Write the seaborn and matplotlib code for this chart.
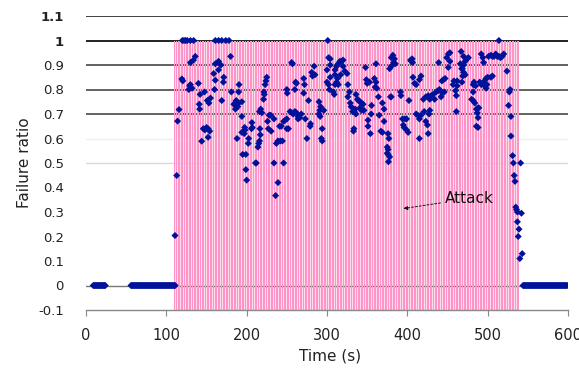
import numpy as np
import pandas as pd
import matplotlib
matplotlib.use("Agg")
import matplotlib.pyplot as plt
import seaborn as sns

# ---------------- data ----------------
# seconds at which the failure ratio was 0 (before / after the attack)
zero_time_a = list(range(9, 25))
zero_time_b = list(range(56, 112))
zero_time_c = list(range(544, 600))

# attack window (pink band), seconds
attack_start = 110
attack_end = 539

# failure ratio samples during the attack
attack_time = [
    110.8, 112.9, 114, 115.8, 119.4, 120.5,
    120, 122, 124, 126, 130, 134,
    128, 129, 130, 132, 130, 133.8, 136, 140, 141, 141.5, 142, 144,
    146, 148, 150, 152, 154, 152, 147.5, 151, 153, 155, 159, 160, 161,
    161, 165, 169, 174, 178, 161, 165, 168, 165, 169, 171, 171.5, 180, 181,
    184, 186, 187, 189, 190, 188, 190, 190.5, 194, 195, 194, 194,
    197, 197.5, 198, 199, 199, 200, 202, 202.5, 206, 206.5, 207, 211, 212,
    214, 215, 216, 216.5, 217, 216, 217.5, 219, 221, 222, 221.5, 223, 224, 225,
    226, 228, 230, 227, 230.5, 234, 234, 237, 239, 242, 244.5, 239, 236,
    241, 243, 246, 248, 246, 250, 252, 250, 250, 250.5, 256, 257,
    254, 256, 258, 260, 262, 264, 266, 264, 268, 261, 262, 260,
    271, 272, 271, 273, 275, 277, 279, 279.5, 281, 282, 284, 285,
    290, 292, 291, 290, 291.5, 296, 294, 293, 294,
    300, 302, 303, 300, 304, 304, 309, 301, 302, 304, 308, 310,
    310, 312, 314, 316, 318, 320, 320, 322, 325, 310, 313, 312, 314, 317,
    326, 328, 326, 329, 330, 332, 334, 335, 336,
    336, 338, 339, 341, 343, 345, 341, 343, 346, 333, 333.5,
    348, 349, 350, 353, 351, 351, 354, 355, 355.5,
    359, 361, 360, 362, 361, 364, 365, 367, 369, 369, 371, 371,
    375, 375, 376, 376.5, 379, 376, 377, 376, 378, 380,
    380, 382, 384, 380, 378, 383, 385, 392, 391.5,
    394, 397, 399, 395, 396, 399, 401, 402, 404, 406, 406.5, 405,
    407, 409, 411, 417, 415, 411, 413, 415, 417, 421, 423, 425, 427, 428, 415, 426,
    420, 423, 426, 428, 430, 432, 434, 436, 438, 440, 442, 444, 446,
    443, 445, 447, 439, 449, 451, 453, 453, 451,
    458, 457, 460, 461, 462, 462, 461, 467, 466, 468,
    470, 472, 474, 476, 470, 468, 470, 472, 469, 468,
    483, 482, 485, 482, 492, 494, 495,
    501, 504, 506, 508, 510, 512, 514, 516, 518, 520,
    490, 492, 496, 498, 500, 504, 506, 496, 498, 499,
    480, 482, 484, 486, 488, 489, 487, 488, 486, 488,
    514, 524, 527, 528, 526, 529, 529, 531, 532, 541, 533, 534,
    535, 536, 537, 542, 537, 539, 538, 543, 540,
]
attack_ratio = [
    0.204, 0.449, 0.671, 0.718, 0.843, 0.835,
    1.0, 1.0, 1.0, 1.0, 1.0, 1.0,
    0.80, 0.815, 0.82, 0.805, 0.91, 0.92, 0.935, 0.825, 0.74, 0.72, 0.78, 0.589,
    0.64, 0.635, 0.645, 0.64, 0.63, 0.605, 0.79, 0.755, 0.745, 0.765, 0.865, 0.80, 0.838,
    1.0, 1.0, 1.0, 1.0, 1.0, 0.905, 0.915, 0.90, 0.88, 0.755, 0.83, 0.85, 0.935, 0.79,
    0.74, 0.72, 0.755, 0.73, 0.745, 0.60, 0.79, 0.82, 0.625, 0.535, 0.75, 0.69,
    0.62, 0.645, 0.635, 0.535, 0.473, 0.43, 0.58, 0.60, 0.64, 0.665, 0.645, 0.50, 0.50,
    0.565, 0.58, 0.59, 0.64, 0.615, 0.71, 0.72, 0.705, 0.76, 0.78, 0.79, 0.82, 0.835, 0.85,
    0.67, 0.695, 0.695, 0.64, 0.63, 0.68, 0.50, 0.58, 0.59, 0.59, 0.59, 0.42, 0.367,
    0.65, 0.65, 0.67, 0.675, 0.50, 0.64, 0.64, 0.68, 0.80, 0.785, 0.91, 0.905,
    0.71, 0.705, 0.70, 0.71, 0.705, 0.69, 0.685, 0.68, 0.70, 0.83, 0.825, 0.80,
    0.845, 0.82, 0.785, 0.68, 0.60, 0.755, 0.65, 0.66, 0.87, 0.855, 0.895, 0.86,
    0.75, 0.73, 0.715, 0.70, 0.69, 0.715, 0.64, 0.60, 0.59,
    0.83, 0.82, 0.80, 0.88, 0.90, 0.85, 0.78, 1.0, 0.93, 0.925, 0.79, 0.82,
    0.88, 0.895, 0.905, 0.915, 0.915, 0.92, 0.895, 0.875, 0.865, 0.86, 0.845, 0.83, 0.82, 0.86,
    0.82, 0.79, 0.77, 0.745, 0.73, 0.71, 0.71, 0.72, 0.70,
    0.78, 0.76, 0.755, 0.75, 0.745, 0.74, 0.725, 0.715, 0.715, 0.63, 0.64,
    0.89, 0.84, 0.825, 0.83, 0.675, 0.65, 0.62, 0.70, 0.735,
    0.845, 0.83, 0.81, 0.805, 0.905, 0.77, 0.695, 0.63, 0.625, 0.745, 0.72, 0.67,
    0.565, 0.54, 0.535, 0.505, 0.77, 0.62, 0.60, 0.555, 0.525, 0.77,
    0.93, 0.94, 0.925, 0.895, 0.885, 0.91, 0.905, 0.775, 0.79,
    0.68, 0.68, 0.68, 0.655, 0.645, 0.635, 0.625, 0.755, 0.92, 0.925, 0.91, 0.915,
    0.85, 0.825, 0.82, 0.855, 0.84, 0.70, 0.695, 0.68, 0.695, 0.71, 0.67, 0.655, 0.70, 0.715, 0.60, 0.62,
    0.76, 0.77, 0.775, 0.76, 0.775, 0.78, 0.76, 0.79, 0.795, 0.80, 0.77, 0.785, 0.79,
    0.835, 0.84, 0.845, 0.91, 0.93, 0.945, 0.95, 0.915, 0.89,
    0.835, 0.82, 0.795, 0.775, 0.835, 0.815, 0.71, 0.955, 0.905, 0.885,
    0.935, 0.915, 0.925, 0.93, 0.90, 0.885, 0.87, 0.86, 0.855, 0.83,
    0.83, 0.82, 0.815, 0.79, 0.945, 0.93, 0.91,
    0.935, 0.94, 0.935, 0.935, 0.945, 0.935, 0.935, 0.93, 0.935, 0.945,
    0.83, 0.82, 0.835, 0.845, 0.85, 0.85, 0.855, 0.815, 0.805, 0.82,
    0.76, 0.755, 0.745, 0.72, 0.725, 0.725, 0.705, 0.685, 0.65, 0.645,
    1.0, 0.875, 0.79, 0.80, 0.735, 0.69, 0.61, 0.53, 0.50, 0.50, 0.449, 0.425,
    0.32, 0.31, 0.30, 0.295, 0.26, 0.23, 0.20, 0.13, 0.11,
]

y_ticks = [-0.1, 0, 0.1, 0.2, 0.3, 0.4, 0.5, 0.6, 0.7, 0.8, 0.9, 1, 1.1]
y_tick_labels = ["-0.1", "0", "0.1", "0.2", "0.3", "0.4", "0.5", "0.6",
                 "0.7", "0.8", "0.9", "1", "1.1"]
x_ticks = [0, 100, 200, 300, 400, 500, 600]

# ---------------- build frame ----------------
zero_times = zero_time_a + zero_time_b + zero_time_c
df = pd.DataFrame({
    "time": zero_times + attack_time,
    "ratio": [0.0] * len(zero_times) + attack_ratio,
})

sns.set_theme(style="white")
plt.rcParams["font.family"] = ["DejaVu Sans"]

fig = plt.figure(figsize=(5.79, 3.75), dpi=100)
ax = fig.add_axes([86 / 579, (375 - 310) / 375, (568 - 86) / 579, (310 - 16) / 375])

ax.set_xlim(0, 600)
ax.set_ylim(-0.1, 1.1)

# gridlines
dark = {0.7: "#555555", 0.8: "#555555", 0.9: "#555555", 1.0: "#111111", 1.1: "#333333"}
for yv, col in dark.items():
    ax.axhline(yv, color=col, lw=1.3, zorder=1)
ax.axhline(0.6, color="#eeeeee", lw=1.0, zorder=1)
ax.axhline(0.5, color="#d9d9d9", lw=1.0, zorder=1)
ax.axhline(0.0, color="#777777", lw=1.0, zorder=1)

# attack band: faint base plus thin pink stripes
ax.fill_between([attack_start, attack_end], -0.1, 1.0, color="#ffdcec",
                lw=0, zorder=0.5)
band_t = np.arange(attack_start, attack_end + 1, 2)
ax.vlines(band_t, -0.1, 1.0, color="#ff94c9", lw=0.72, antialiased=False,
          zorder=2)

sns.scatterplot(data=df, x="time", y="ratio", ax=ax, marker="D", s=13,
                color="#00119a", edgecolor="none", linewidth=0, zorder=4,
                legend=False)

# axes styling
for side in ["top", "right", "left"]:
    ax.spines[side].set_visible(False)
ax.spines["bottom"].set_color("#888888")
ax.spines["bottom"].set_linewidth(1.0)

ax.set_xticks(x_ticks)
ax.set_xticklabels([str(v) for v in x_ticks], fontsize=10.5, color="#222222")
ax.tick_params(axis="x", which="both", bottom=True, length=4, width=0.8,
               color="#888888", pad=9)
ax.set_yticks(y_ticks)
ax.set_yticklabels(y_tick_labels, fontsize=9.5, color="#222222")
ax.tick_params(axis="y", left=False, pad=10)
for lbl in ax.get_yticklabels():
    if lbl.get_text() in ("1", "1.1"):
        lbl.set_fontweight("bold")

ax.set_xlabel("Time (s)", fontsize=11, color="#222222")
ax.set_ylabel("Failure ratio", fontsize=11, color="#222222")
ax.xaxis.set_label_coords(0.506, -0.132)
ax.yaxis.set_label_coords(-0.112, 0.5)

ax.annotate("Attack", xy=(395, 0.314), xytext=(447, 0.355),
            fontsize=11, color="#111111", va="center", ha="left",
            arrowprops=dict(arrowstyle="-|>", linestyle=(0, (2, 2)),
                            color="#111111", lw=0.7, mutation_scale=6,
                            shrinkA=1, shrinkB=0),
            zorder=5)

fig.savefig("out.png", dpi=100)
